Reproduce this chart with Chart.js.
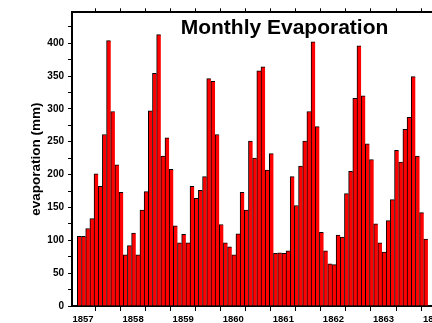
<!DOCTYPE html>
<html><head><meta charset="utf-8">
<script src="https://cdn.jsdelivr.net/npm/chart.js@4"></script>
<style>
html,body{margin:0;padding:0;overflow:hidden;background:#fff;width:432px;height:323px;}
#wrap{position:absolute;left:0;top:0;width:460px;height:323px;}
canvas{display:block;}
</style></head><body>
<div id="wrap"><canvas id="c" width="460" height="323"></canvas></div>
<script>
// ---- data ----
const chartTitle = 'Monthly Evaporation';
const yTitle = 'evaporation (mm)';
const years = [1857, 1858, 1859, 1860, 1861, 1862, 1863];
const evap1857 = [106, 106, 118, 133, 201, 182, 261, 404, 296, 215, 173, 78];
const evap1858 = [92, 111, 78, 146, 174, 297, 354, 413, 228, 256, 208, 122];
const evap1859 = [96, 109, 96, 182, 164, 176, 197, 346, 342, 261, 124, 96];
const evap1860 = [90, 78, 110, 173, 146, 251, 225, 358, 364, 207, 232, 80];
const evap1861 = [81, 80, 84, 197, 153, 213, 251, 296, 402, 273, 112, 84];
const evap1862 = [64, 63, 108, 105, 171, 205, 316, 396, 320, 247, 223, 125];
const evap1863 = [96, 82, 130, 162, 237, 219, 269, 287, 349, 228, 142, 102];
const monthly = [evap1857, evap1858, evap1859, evap1860, evap1861, evap1862, evap1863];
const xTickYears = [1857, 1858, 1859, 1860, 1861, 1862, 1863, 1864];
const yTickLabels = [0, 50, 100, 150, 200, 250, 300, 350, 400];
const xMin = 1856.78, xMax = 1864.0;
const yMin = 0, yMax = 447;
const monthShift = -0.86; // bars are plotted 0.86 month ahead of the year mark

const points = [];
years.forEach((yr, i) => monthly[i].forEach((v, m) => points.push({x: yr + (m + monthShift) / 12, y: v})));

const FONT = '"Liberation Sans", Arial, Helvetica, sans-serif';

const innerTitle = {
  id: 'innerTitle',
  afterDraw(chart) {
    const {ctx, chartArea} = chart;
    ctx.save();
    ctx.font = 'bold 21px ' + FONT;
    ctx.fillStyle = '#000';
    ctx.textAlign = 'center';
    ctx.textBaseline = 'alphabetic';
    ctx.fillText(chartTitle, chartArea.left + 212.5, chartArea.top + 21.8);
    ctx.restore();
  }
};

const isOn = (v, list) => list.some(t => Math.abs(t - v) < 1e-6);

new Chart(document.getElementById('c'), {
  type: 'bar',
  data: {
    datasets: [{
      data: points,
      backgroundColor: '#ff0000',
      borderColor: '#000000',
      borderWidth: {top: 1, left: 1, right: 0, bottom: 0},
      borderSkipped: 'start',
      barPercentage: 1,
      categoryPercentage: 1,
      xAxisID: 'x',
      yAxisID: 'y'
    }]
  },
  options: {
    responsive: false,
    animation: false,
    devicePixelRatio: 1,
    layout: {padding: 0},
    plugins: {legend: {display: false}, tooltip: {enabled: false}, title: {display: false}},
    scales: {
      x: {
        type: 'linear', position: 'bottom', min: xMin, max: xMax, offset: false, z: 1,
        afterFit: s => { s.height = 17; },
        grid: {drawOnChartArea: false, drawTicks: true, tickLength: 5, color: '#000', lineWidth: 1},
        border: {display: true, color: '#000', width: 2},
        ticks: {
          stepSize: 0.5, includeBounds: false, autoSkip: false, maxRotation: 0, minRotation: 0,
          maxTicksLimit: 100, padding: 3, color: '#000',
          font: {family: FONT, size: 9.5, weight: 'bold'},
          callback: v => isOn(v, xTickYears) ? String(Math.round(v)) : ''
        }
      },
      x2: {
        type: 'linear', position: 'top', min: xMin, max: xMax, offset: false, z: 1,
        afterFit: s => { s.height = 12.3; },
        grid: {drawOnChartArea: false, drawTicks: true, tickLength: 4, color: '#000', lineWidth: 1},
        border: {display: true, color: '#000', width: 2},
        ticks: {stepSize: 0.5, includeBounds: false, autoSkip: false, maxTicksLimit: 100, maxRotation: 0, callback: () => ''}
      },
      y: {
        type: 'linear', position: 'left', min: yMin, max: yMax, z: 1,
        afterFit: s => { s.width = 72; },
        grid: {drawOnChartArea: false, drawTicks: true, tickLength: 4, color: '#000', lineWidth: 1},
        border: {display: true, color: '#000', width: 2},
        ticks: {
          stepSize: 25, includeBounds: false, autoSkip: false, maxTicksLimit: 100, padding: 4, color: '#000',
          font: {family: FONT, size: 10, weight: 'bold'},
          callback: v => isOn(v, yTickLabels) ? String(v) : ''
        },
        title: {display: true, text: yTitle, color: '#000', padding: {top: 28, bottom: 0},
                font: {family: FONT, size: 13.5, weight: 'bold'}}
      },
      y2: {
        type: 'linear', position: 'right', min: yMin, max: yMax, z: 1,
        afterFit: s => { s.width = 26.4; },
        grid: {display: false},
        border: {display: true, color: '#000', width: 2},
        ticks: {display: false}
      }
    }
  },
  plugins: [innerTitle]
});
</script>
</body></html>
